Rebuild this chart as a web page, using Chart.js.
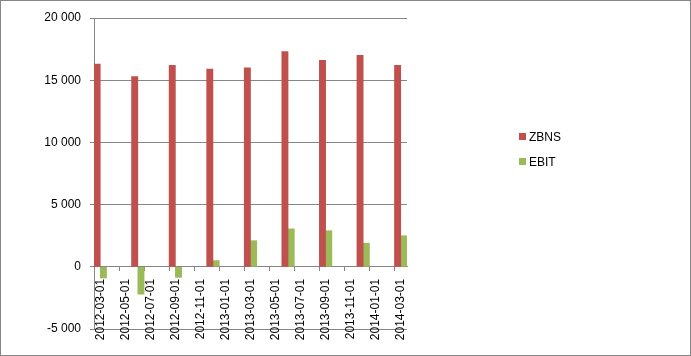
<!DOCTYPE html>
<html><head><meta charset="utf-8">
<script src="https://cdn.jsdelivr.net/npm/chart.js@4.4.1/dist/chart.umd.min.js"></script>
<style>
html,body{margin:0;padding:0;background:#fff;}
#wrap{position:relative;width:691px;height:356px;box-sizing:border-box;border:1px solid #868686;background:#fff;}
#c{position:absolute;left:0;top:0;}
.leg{position:absolute;height:12px;font:12px "Liberation Sans",Arial,sans-serif;color:#000;display:flex;align-items:center;white-space:nowrap;}
.leg i{display:inline-block;width:7px;height:7px;margin-right:3px;}
</style></head><body>
<div id="wrap"><canvas id="c" width="689" height="354"></canvas></div>
<script>
// Monthly date axis (labels shown every 2 months)
const axisMonths = ['2012-03-01','2012-04-01','2012-05-01','2012-06-01','2012-07-01','2012-08-01','2012-09-01','2012-10-01','2012-11-01','2012-12-01','2013-01-01','2013-02-01','2013-03-01','2013-04-01','2013-05-01','2013-06-01','2013-07-01','2013-08-01','2013-09-01','2013-10-01','2013-11-01','2013-12-01','2014-01-01','2014-02-01','2014-03-01'];
// Quarterly data points
const periods = ['2012-03-01','2012-06-01','2012-09-01','2012-12-01','2013-03-01','2013-06-01','2013-09-01','2013-12-01','2014-03-01'];
const zbns = [16300,15300,16200,15900,16000,17300,16600,17000,16200];
const ebit = [-900,-2200,-850,500,2100,3050,2900,1900,2500];
const seriesNames = ['ZBNS','EBIT'];
const seriesColors = ['#C0504D','#9BBB59'];
const yMin = -5000, yMax = 20000, yStep = 5000;

const FONT = {family:'"Liberation Sans", Arial, sans-serif', size:12};
function fmt(v){const s=String(Math.abs(v)).replace(/\B(?=(\d{3})+(?!\d))/g,' ');return (v<0?'-':'')+s;}

const seriesData = [zbns, ebit];
const datasets = seriesNames.map((n,k)=>({
  label:n,
  data: periods.map((p,i)=>({x:p, y:seriesData[k][i]})),
  backgroundColor: seriesColors[k],
  borderWidth:0,
  categoryPercentage:1,
  barPercentage:1
}));

new Chart(document.getElementById('c'), {
  type:'bar',
  data:{labels:axisMonths, datasets},
  options:{
    responsive:false, animation:false, devicePixelRatio:1,
    layout:{padding:{left:0, top:17, right:283, bottom:26}},
    plugins:{legend:{display:false}, tooltip:{enabled:false}},
    scales:{
      x:{
        position:{y:0}, offset:true,
        grid:{offset:true, drawOnChartArea:false, drawTicks:true, tickLength:4,
          color:(ctx)=> (ctx.index!==undefined && ctx.index%2===0) ? '#868686' : 'rgba(0,0,0,0)'},
        border:{color:'#868686'},
        ticks:{autoSkip:false, maxRotation:90, minRotation:90, padding:8, color:'#000', font:FONT,
          callback:(v,i)=> i%2===0 ? axisMonths[i] : ''}
      },
      y:{
        min:yMin, max:yMax,
        ticks:{stepSize:yStep, padding:9, color:'#000', font:FONT, callback:(v)=>fmt(v)},
        grid:{color:'#868686', tickLength:4},
        border:{color:'#868686'},
        afterFit:(s)=>{s.width=93;}
      }
    }
  }
});

// Legend (HTML)
const legTops = [129.5, 154.5];
seriesNames.forEach((n,k)=>{
  const d=document.createElement('div');
  d.className='leg';
  d.style.left='518px';
  d.style.top=legTops[k]+'px';
  d.innerHTML='<i style="background:'+seriesColors[k]+'"></i>';
  d.appendChild(document.createTextNode(n));
  document.getElementById('wrap').appendChild(d);
});
</script>
</body></html>
